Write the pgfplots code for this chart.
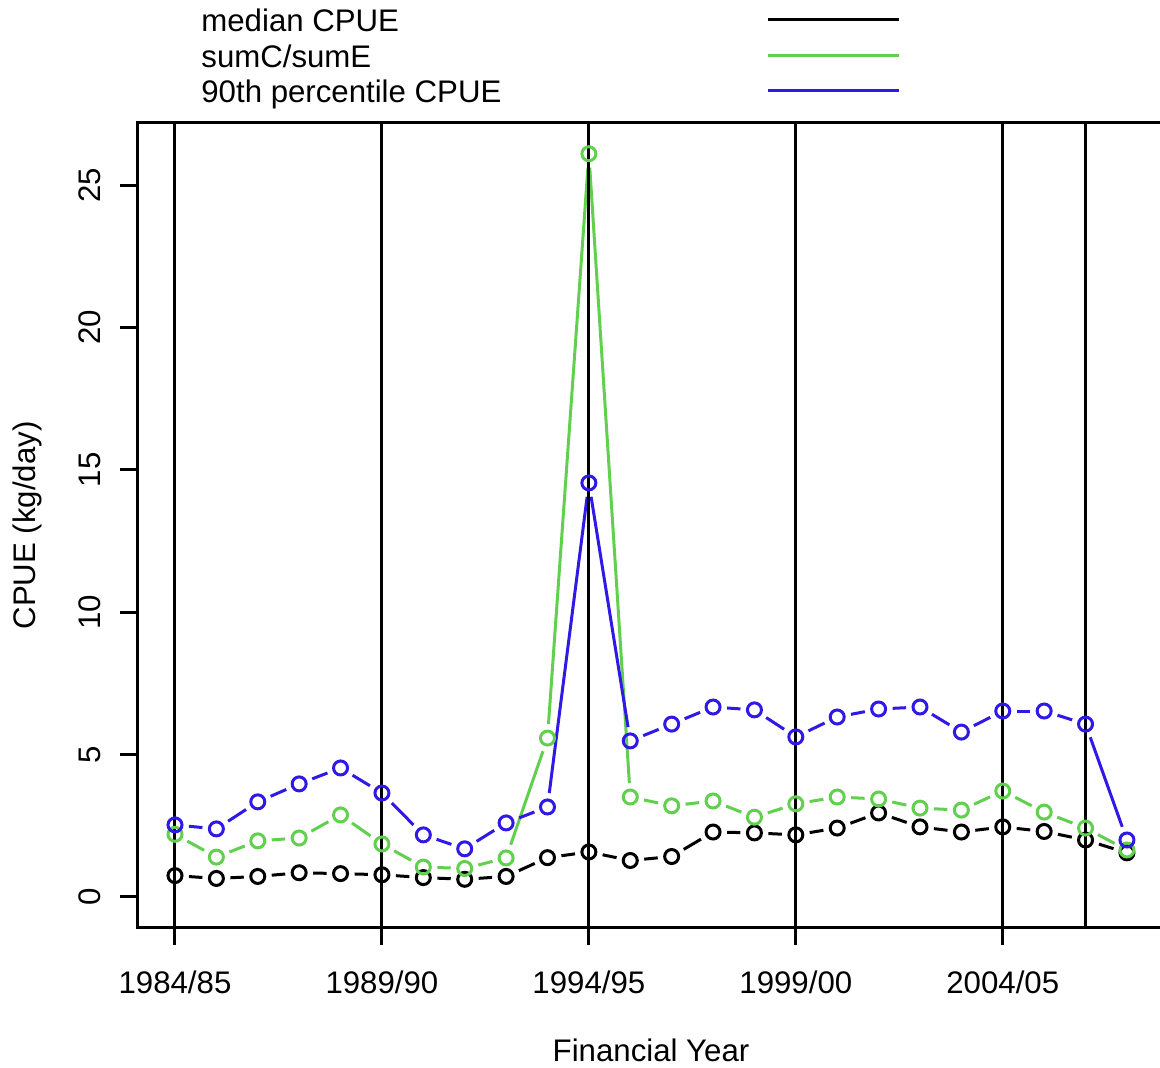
\documentclass[border=0pt]{standalone}
\usepackage{fontspec}
\setmainfont{Liberation Sans}
\usepackage{pgfplots}
\usepackage{pgfplotstable}
\pgfplotsset{compat=1.18}
\definecolor{rgreen}{RGB}{97,208,79}
\definecolor{rblue}{RGB}{48,24,230}
\newcommand{\fs}{\fontsize{15.6}{18}\selectfont}

\pgfplotstableread{
x med sum p90
0 0.75 2.20 2.53
1 0.65 1.40 2.39
2 0.72 1.97 3.34
3 0.85 2.07 3.97
4 0.82 2.88 4.53
5 0.78 1.86 3.65
6 0.68 1.05 2.18
7 0.62 1.00 1.69
8 0.72 1.37 2.60
9 1.38 5.58 3.16
10 1.58 26.10 14.54
11 1.28 3.51 5.48
12 1.42 3.20 6.07
13 2.28 3.37 6.67
14 2.25 2.80 6.57
15 2.18 3.27 5.62
16 2.42 3.51 6.32
17 2.95 3.44 6.60
18 2.46 3.12 6.67
19 2.28 3.05 5.79
20 2.46 3.72 6.53
21 2.30 2.98 6.53
22 2.00 2.42 6.07
23 1.55 1.65 2.00
}\data

\begin{document}
\begin{tikzpicture}
\useasboundingbox (-68.5pt,-70pt) rectangle (511.5pt,464pt);
\clip (-68.5pt,-70pt) rectangle (511.5pt,464pt);
\begin{axis}[
  at={(0,0)}, anchor=south west,
  scale only axis, width=514pt, height=402.5pt,
  xmin=-0.918, xmax=23.92, ymin=-1.09, ymax=27.18,
  axis line style={line width=1.5pt},
  xtick={0,5,10,15,20},
  xticklabels={1984/85,1989/90,1994/95,1999/00,2004/05},
  ytick={0,5,10,15,20,25},
  tick align=outside, major tick length=8.5pt,
  every tick/.style={black, line width=1.5pt},
  xtick pos=bottom, ytick pos=left,
  /pgf/number format/assume math mode=true,
  tick label style={font=\fs},
  xticklabel style={anchor=center, yshift=-18.5pt},
  yticklabel style={anchor=center, rotate=90, yshift=15pt},
  xlabel={Financial Year}, ylabel={CPUE (kg/day)},
  label style={font=\fs},
  xlabel style={at={(axis description cs:0.5,0)}, anchor=center, yshift=-61pt},
  ylabel style={at={(axis description cs:0,0.5)}, anchor=center, yshift=55pt},
]
\pgfplotsinvokeforeach{0:1,1:2,2:3,3:4,4:5,5:6,6:7,7:8,8:9,9:10,10:11,11:12,12:13,13:14,14:15,15:16,16:17,17:18,18:19,19:20,20:21,21:22,22:23}{
  \addplot[black, mark=none, line width=1.5pt, shorten >=7pt, shorten <=7pt,
    restrict x to domain=#1] table[x=x,y=med]{\data};
  \addplot[rgreen, mark=none, line width=1.5pt, shorten >=7pt, shorten <=7pt,
    restrict x to domain=#1] table[x=x,y=sum]{\data};
  \addplot[rblue, mark=none, line width=1.5pt, shorten >=7pt, shorten <=7pt,
    restrict x to domain=#1] table[x=x,y=p90]{\data};
}
\addplot[black, only marks, mark=o, mark size=3.5pt, mark options={line width=1.5pt}] table[x=x,y=med]{\data};
\addplot[rgreen, only marks, mark=o, mark size=3.5pt, mark options={line width=1.5pt}] table[x=x,y=sum]{\data};
\addplot[rblue, only marks, mark=o, mark size=3.5pt, mark options={line width=1.5pt}] table[x=x,y=p90]{\data};
\pgfplotsinvokeforeach{0,5,10,15,20,22}{
  \addplot[black, mark=none, line width=1.5pt] coordinates {(#1,-5) (#1,30)};
}
\end{axis}
\foreach \yy/\txt/\col in {454/median CPUE/black, 436/sumC\slash sumE/rgreen, 418.5/90th percentile CPUE/rblue}{
  \draw[\col, line width=1.5pt] (315.5pt,\yy pt) -- (381pt,\yy pt);
  \node[anchor=base west, inner sep=0pt, font=\fs] at (32pt,\yy pt-5.6pt) {\txt};
}
\end{tikzpicture}
\end{document}
